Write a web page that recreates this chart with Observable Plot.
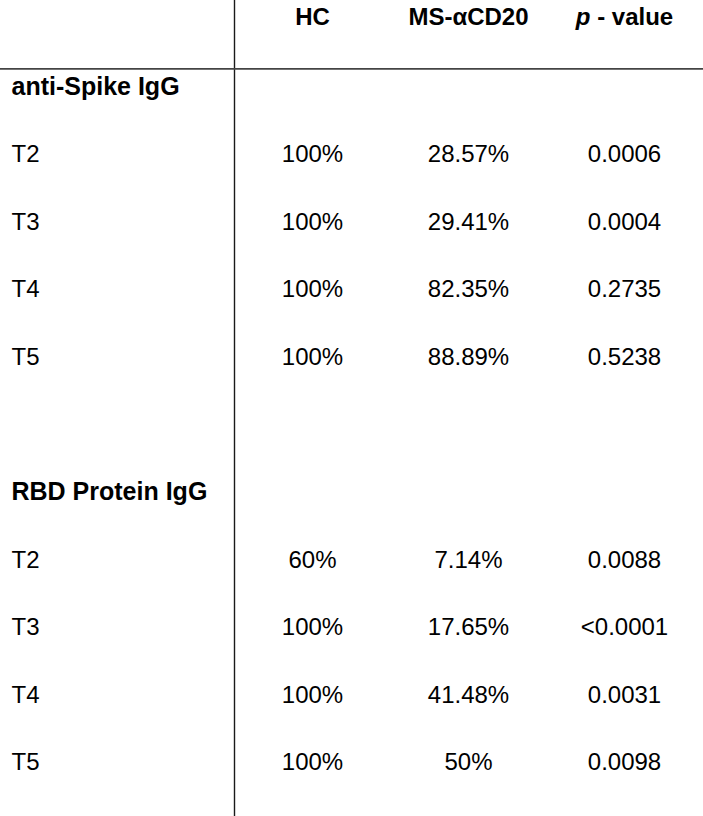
<!DOCTYPE html>
<html>
<head>
<meta charset="utf-8">
<script src="https://cdn.jsdelivr.net/npm/d3@7"></script>
<script src="https://cdn.jsdelivr.net/npm/@observablehq/plot@0.6"></script>
<style>
  html, body { margin: 0; padding: 0; background: #fff; }
  #chart svg { display: block; }
</style>
</head>
<body>
<div id="chart"></div>
<script>
// ---- data ----
const columns = ["HC", "MS-αCD20", "p - value"];
const groups = ["anti-Spike IgG", "RBD Protein IgG"];
const timepoints = ["T2", "T3", "T4", "T5"];
const hcValues = ["100%", "100%", "100%", "100%", "60%", "100%", "100%", "100%"];
const msValues = ["28.57%", "29.41%", "82.35%", "88.89%", "7.14%", "17.65%", "41.48%", "50%"];
const pValues = ["0.0006", "0.0004", "0.2735", "0.5238", "0.0088", "<0.0001", "0.0031", "0.0098"];

// ---- table layout (row / column indices) ----
const headerCells = columns.map((c, i) => ({text: c, col: i + 1, row: 0}));
const groupCells = groups.map((g, gi) => ({text: g, row: 1 + gi * 6}));
const rowLabels = [];
const valueCells = [];
groups.forEach((g, gi) => {
  timepoints.forEach((t, ti) => {
    const row = 2 + gi * 6 + ti;
    const k = gi * 4 + ti;
    rowLabels.push({text: t, row});
    valueCells.push({text: hcValues[k], col: 1, row});
    valueCells.push({text: msValues[k], col: 2, row});
    valueCells.push({text: pValues[k], col: 3, row});
  });
});

const font = "'Liberation Sans', Arial, Helvetica, sans-serif";

const chart = Plot.plot({
  width: 703,
  height: 816,
  margin: 0,
  style: {fontFamily: font, background: "#fff", color: "#000"},
  x: {type: "linear", domain: [1, 3], range: [312, 624], axis: null},
  y: {type: "linear", domain: [0, 11], range: [18.7, 762.3], axis: null},
  marks: [
    Plot.ruleX([0.5], {stroke: "#1a1a1a", strokeWidth: 1.4}),
    Plot.ruleY([0.735], {stroke: "#444", strokeWidth: 1.8}),
    Plot.text(headerCells, {x: "col", y: "row", text: "text", fontSize: 24, fontWeight: "bold", fill: "#000", dy: -2}),
    Plot.text(groupCells, {y: "row", text: "text", frameAnchor: "left", textAnchor: "start", dx: 11, fontSize: 25, fontWeight: "bold", fill: "#000"}),
    Plot.text(rowLabels, {y: "row", text: "text", frameAnchor: "left", textAnchor: "start", dx: 11, fontSize: 24, fill: "#000"}),
    Plot.text(valueCells, {x: "col", y: "row", text: "text", fontSize: 24, fill: "#000"})
  ]
});

// italicise the "p" in the p-value header
d3.select(chart).selectAll("text").each(function() {
  const el = this;
  if (el.textContent === "p - value") {
    el.textContent = "";
    const ns = "http://www.w3.org/2000/svg";
    const t1 = document.createElementNS(ns, "tspan");
    t1.setAttribute("font-style", "italic");
    t1.textContent = "p";
    const t2 = document.createElementNS(ns, "tspan");
    t2.textContent = " - value";
    el.appendChild(t1);
    el.appendChild(t2);
  }
});

document.getElementById("chart").appendChild(chart);
</script>
</body>
</html>
